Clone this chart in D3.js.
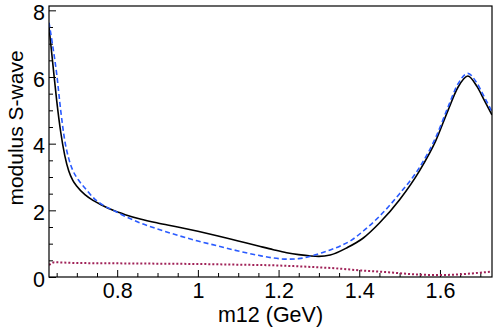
<!DOCTYPE html>
<html>
<head>
<meta charset="utf-8">
<script src="https://cdn.jsdelivr.net/npm/d3@7"></script>
<style>
  body { margin: 0; background: #fff; }
  text { font-family: "Liberation Sans", Arial, sans-serif; }
</style>
</head>
<body>
<script>
// curve samples: m12 (GeV) and modulus
let blackM = [0.631, 0.640, 0.650, 0.660, 0.670, 0.680, 0.690, 0.700, 0.720, 0.740, 0.760, 0.790, 0.820, 0.857, 0.900, 0.950, 1.000, 1.050, 1.100, 1.150, 1.187, 1.220, 1.250, 1.280, 1.300, 1.328, 1.370, 1.410, 1.450, 1.500, 1.550, 1.590, 1.620, 1.645, 1.669, 1.692, 1.710, 1.729];
let blackV = [7.50, 6.45, 5.30, 4.35, 3.65, 3.18, 2.90, 2.72, 2.47, 2.30, 2.17, 2.00, 1.87, 1.74, 1.62, 1.50, 1.37, 1.23, 1.08, 0.93, 0.82, 0.73, 0.67, 0.63, 0.62, 0.66, 0.88, 1.17, 1.62, 2.32, 3.20, 4.10, 5.00, 5.70, 6.03, 5.71, 5.30, 4.86];

let blueM = [0.631, 0.640, 0.650, 0.660, 0.670, 0.680, 0.690, 0.704, 0.720, 0.745, 0.770, 0.790, 0.820, 0.857, 0.900, 0.950, 1.000, 1.050, 1.100, 1.150, 1.187, 1.221, 1.250, 1.279, 1.300, 1.328, 1.353, 1.380, 1.410, 1.450, 1.500, 1.550, 1.590, 1.620, 1.645, 1.669, 1.690, 1.710, 1.729];
let blueV = [7.63, 6.95, 6.10, 5.00, 4.10, 3.55, 3.20, 2.91, 2.67, 2.33, 2.12, 2.00, 1.82, 1.62, 1.44, 1.25, 1.08, 0.93, 0.78, 0.65, 0.57, 0.535, 0.55, 0.62, 0.70, 0.81, 0.93, 1.10, 1.38, 1.82, 2.50, 3.30, 4.20, 5.10, 5.80, 6.11, 5.85, 5.40, 4.96];

let redM = [0.631, 0.645, 0.70, 0.80, 0.90, 1.00, 1.10, 1.187, 1.25, 1.30, 1.353, 1.40, 1.45, 1.494, 1.55, 1.60, 1.65, 1.70, 1.729];
let redV = [0.36, 0.44, 0.42, 0.41, 0.40, 0.39, 0.37, 0.35, 0.32, 0.29, 0.25, 0.20, 0.16, 0.12, 0.07, 0.06, 0.08, 0.13, 0.16];

let xMajor = [0.8, 1.0, 1.2, 1.4, 1.6];
let xMinor = [0.65, 0.7, 0.75, 0.85, 0.9, 0.95, 1.05, 1.1, 1.15, 1.25, 1.3, 1.35, 1.45, 1.5, 1.55, 1.65, 1.7];
let yMajor = [0, 2, 4, 6, 8];
let yMinor = [0.5, 1, 1.5, 2.5, 3, 3.5, 4.5, 5, 5.5, 6.5, 7, 7.5];

let margin = { top: 6, left: 49, bottom: 50, right: 6 };
let width = 498 - margin.left - margin.right,
  height = 327 - margin.top - margin.bottom;

let svg = d3.select("body").append("svg")
  .attr("width", 498)
  .attr("height", 327);

let g = svg.append("g")
  .attr("transform", "translate(" + margin.left + "," + margin.top + ")");

let x = d3.scaleLinear().domain([0.631, 1.729]).range([0, width]);
let y = d3.scaleLinear().domain([0, 8.13]).range([height, 0]);

// minor ticks (inward, no labels)
g.append("g")
  .attr("transform", "translate(0," + height + ")")
  .call(d3.axisBottom(x).tickValues(xMinor).tickSize(-4).tickFormat(""))
  .call(a => a.select(".domain").remove());
g.append("g")
  .call(d3.axisLeft(y).tickValues(yMinor).tickSize(-4).tickFormat(""))
  .call(a => a.select(".domain").remove());

// major ticks with labels
let xAxis = g.append("g")
  .attr("transform", "translate(0," + height + ")")
  .call(d3.axisBottom(x).tickValues(xMajor).tickSize(-7).tickPadding(6).tickFormat(d3.format("~g")))
  .call(a => a.select(".domain").remove());
xAxis.selectAll("text")
  .attr("font-size", 21.5)
  .attr("font-family", "Liberation Sans, Arial, sans-serif")
  .attr("fill", "#000");

let yAxis = g.append("g")
  .call(d3.axisLeft(y).tickValues(yMajor).tickSize(-7).tickPadding(4).tickFormat(d3.format("~g")))
  .call(a => a.select(".domain").remove());
yAxis.selectAll("text")
  .attr("dy", "0.42em")
  .attr("font-size", 21.5)
  .attr("font-family", "Liberation Sans, Arial, sans-serif")
  .attr("fill", "#000");

g.selectAll(".tick line").attr("stroke", "#000");

// clip the curves to the frame
g.append("clipPath").attr("id", "clip")
  .append("rect").attr("width", width).attr("height", height);

let line = d3.line()
  .x(d => x(d[0]))
  .y(d => y(d[1]))
  .curve(d3.curveMonotoneX);

let curves = g.append("g").attr("clip-path", "url(#clip)");

curves.append("path")
  .datum(redM.map((m, i) => [m, redV[i]]))
  .attr("d", line)
  .attr("fill", "none")
  .attr("stroke", "#a02258")
  .attr("stroke-width", 2)
  .attr("stroke-dasharray", "2,2");

curves.append("path")
  .datum(blackM.map((m, i) => [m, blackV[i]]))
  .attr("d", line)
  .attr("fill", "none")
  .attr("stroke", "#000")
  .attr("stroke-width", 1.6);

curves.append("path")
  .datum(blueM.map((m, i) => [m, blueV[i]]))
  .attr("d", line)
  .attr("fill", "none")
  .attr("stroke", "#2a5bff")
  .attr("stroke-width", 1.6)
  .attr("stroke-dasharray", "5,3");

// frame
g.append("rect")
  .attr("width", width)
  .attr("height", height)
  .attr("fill", "none")
  .attr("stroke", "#000")
  .attr("stroke-width", 1.2);

// axis titles
svg.append("text")
  .attr("x", margin.left + width / 2)
  .attr("y", 322)
  .attr("text-anchor", "middle")
  .attr("font-size", 21.5)
  .text("m12 (GeV)");

svg.append("text")
  .attr("transform", "translate(23," + 128 + ") rotate(-90)")
  .attr("text-anchor", "middle")
  .attr("font-size", 21)
  .text("modulus S-wave");
</script>
</body>
</html>
